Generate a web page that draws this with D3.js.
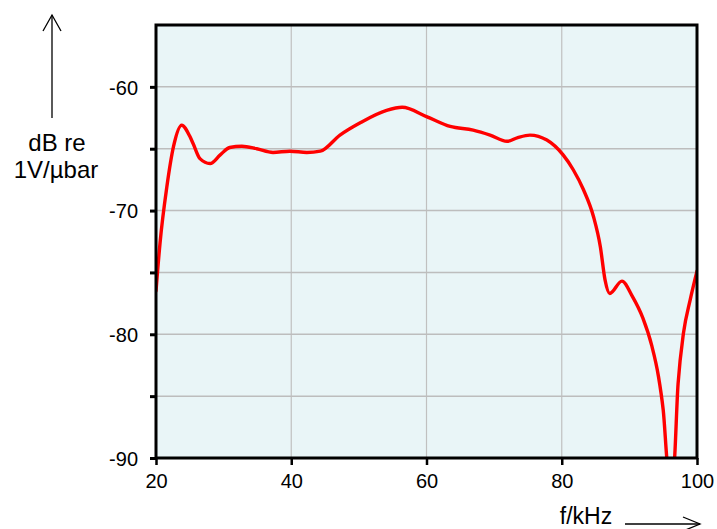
<!DOCTYPE html>
<html><head><meta charset="utf-8">
<script src="https://cdn.jsdelivr.net/npm/d3@7"></script>
<style>body{margin:0;background:#fff}svg{display:block}text{font-family:"Liberation Sans",Arial,sans-serif;fill:#000}</style>
</head><body>
<svg id="c" width="717" height="529"></svg>
<script>
const freqKHz = [20, 20.6, 21.6, 22.6, 23.8, 25.0, 25.5, 26.5, 28.0, 29.5, 30.9, 32.7, 34.9, 37.3, 39.8, 42.3, 44.3, 47.2, 50.2, 54.1, 56.4, 60.0, 63.5, 66.9, 69.4, 71.9, 73.5, 75.3, 77.8, 80.2, 81.7, 83.2, 84.7, 85.7, 86.4, 87.1, 88.9, 90.4, 92.0, 93.3, 94.3, 95.0, 95.8, 96.5, 97.2, 98.0, 99.0, 100];
const levelDB = [-76.5, -72.6, -68.1, -64.8, -63.1, -64.0, -64.6, -65.8, -66.2, -65.5, -64.9, -64.8, -65.0, -65.3, -65.2, -65.3, -65.2, -63.9, -62.9, -61.9, -61.65, -62.4, -63.2, -63.5, -63.9, -64.4, -64.1, -63.9, -64.3, -65.5, -66.7, -68.3, -70.5, -72.9, -75.6, -76.7, -75.7, -76.9, -78.7, -80.9, -83.4, -86.1, -91.0, -91.0, -84.0, -79.9, -77.2, -74.9];
const xTicks = [20, 40, 60, 80, 100];
const yTicks = [-90, -85, -80, -75, -70, -65, -60];
const yLabels = [-90, -80, -70, -60];

const svg = d3.select("#c");
const L = 156, R = 697, T = 25, B = 458;
const x = d3.scaleLinear().domain([20, 100]).range([L, R]);
const y = d3.scaleLinear().domain([-90, -55]).range([B, T]);

svg.append("rect").attr("x", L).attr("y", T).attr("width", R - L).attr("height", B - T).attr("fill", "#e9f5f7");

// grid
svg.append("g").selectAll("line").data(xTicks.slice(1, -1)).join("line")
  .attr("x1", d => x(d)).attr("x2", d => x(d)).attr("y1", T).attr("y2", B)
  .attr("stroke", "#c0c0c0").attr("stroke-width", 1.2);
svg.append("g").selectAll("line").data(yTicks.slice(1)).join("line")
  .attr("x1", L).attr("x2", R).attr("y1", d => y(d)).attr("y2", d => y(d))
  .attr("stroke", "#bdbdbd").attr("stroke-width", 1.5);

// curve
svg.append("clipPath").attr("id", "clip").append("rect")
  .attr("x", L).attr("y", T).attr("width", R - L).attr("height", B - T);
const pts = freqKHz.map((f, i) => [f, levelDB[i]]);
const line = d3.line().x(d => x(d[0])).y(d => y(d[1])).curve(d3.curveMonotoneX);
svg.append("path").datum(pts).attr("d", line).attr("clip-path", "url(#clip)")
  .attr("fill", "none").attr("stroke", "#ff0000").attr("stroke-width", 3.4)
  .attr("stroke-linejoin", "round").attr("stroke-linecap", "round");

// axes
const yAxis = d3.axisLeft(y).tickValues(yTicks).tickSize(6).tickFormat(d => yLabels.includes(d) ? String(d) : "");
const gy = svg.append("g").attr("transform", `translate(${L},0)`).call(yAxis);
gy.select(".domain").remove();
gy.selectAll(".tick line").attr("stroke", "#000").attr("stroke-width", 3);
gy.selectAll(".tick text").attr("font-size", 20).attr("font-family", "Liberation Sans, Arial, sans-serif").attr("x", -18).attr("dy", "0.36em");

const xAxis = d3.axisBottom(x).tickValues(xTicks).tickSize(7).tickFormat(d => String(d));
const gx = svg.append("g").attr("transform", `translate(0,${B})`).call(xAxis);
gx.select(".domain").remove();
gx.selectAll(".tick line").attr("stroke", "#000").attr("stroke-width", 2.5);
gx.selectAll(".tick text").attr("font-size", 20).attr("font-family", "Liberation Sans, Arial, sans-serif").attr("y", 16).attr("dy", "0.71em");

// frame
svg.append("rect").attr("x", L).attr("y", T).attr("width", R - L).attr("height", B - T)
  .attr("fill", "none").attr("stroke", "#000").attr("stroke-width", 3);

// y label with arrow
svg.append("line").attr("x1", 52).attr("x2", 52).attr("y1", 15).attr("y2", 118).attr("stroke", "#000").attr("stroke-width", 1.3);
svg.append("path").attr("d", "M43,31L52,15L61,31").attr("fill", "none").attr("stroke", "#000").attr("stroke-width", 1.3);
svg.append("text").attr("x", 57).attr("y", 151).attr("text-anchor", "middle").attr("font-size", 24).text("dB re");
svg.append("text").attr("x", 56).attr("y", 178).attr("text-anchor", "middle").attr("font-size", 24).text("1V/µbar");

// x label with arrow
svg.append("text").attr("x", 586).attr("y", 524).attr("text-anchor", "middle").attr("font-size", 23).text("f/kHz");
svg.append("line").attr("x1", 625).attr("x2", 700).attr("y1", 524).attr("y2", 524).attr("stroke", "#000").attr("stroke-width", 1.3);
svg.append("path").attr("d", "M683,517L700,524L683,531").attr("fill", "none").attr("stroke", "#000").attr("stroke-width", 1.3);
</script>
</body></html>
